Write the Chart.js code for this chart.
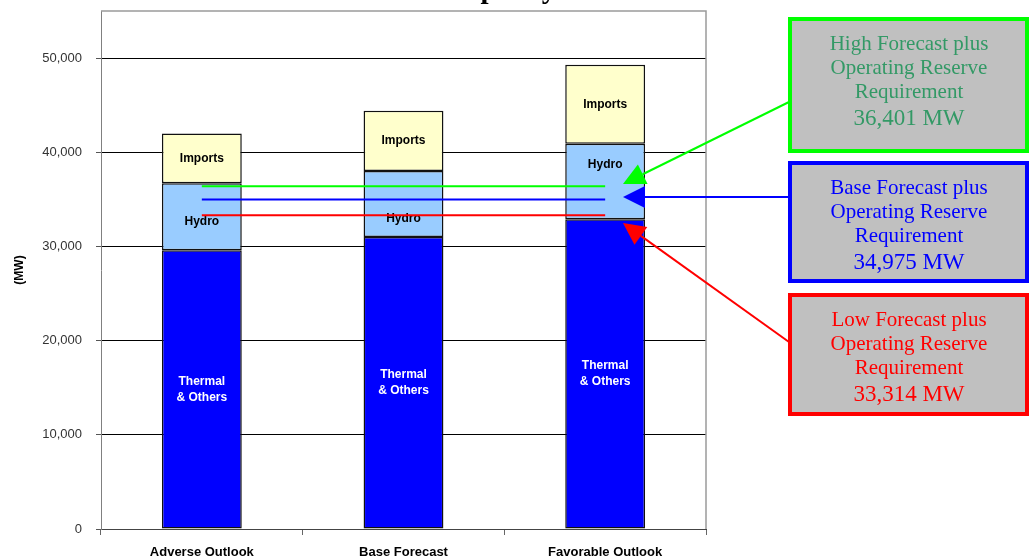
<!DOCTYPE html>
<html><head><meta charset="utf-8">
<script src="https://cdn.jsdelivr.net/npm/chart.js@4"></script>
<style>html,body{margin:0;padding:0;background:#fff;}canvas{display:block}</style>
</head><body>
<canvas id="c" width="1029" height="560"></canvas>
<script>
const categories = ['Adverse Outlook', 'Base Forecast', 'Favorable Outlook'];
const thermal = [29600, 31000, 32900];
const hydro = [7100, 7000, 8000];
const imports = [5300, 6400, 8400];
const highReserve = 36401;
const baseReserve = 34975;
const lowReserve = 33314;
const yTicks = [0, 10000, 20000, 30000, 40000, 50000];
const segmentLabels = ['Thermal\n& Others', 'Hydro', 'Imports'];
const calloutLines = [
  ['High Forecast plus', 'Operating Reserve', 'Requirement'],
  ['Base Forecast plus', 'Operating Reserve', 'Requirement'],
  ['Low Forecast plus', 'Operating Reserve', 'Requirement']
];
const calloutValues = [highReserve, baseReserve, lowReserve];

const SANS = '"Liberation Sans", Arial, sans-serif';
const SERIF = '"Liberation Serif", "Times New Roman", serif';

const barLabelPlugin = {
  id: 'barLabels',
  afterDatasetDraw(chart, args) {
    if (args.index !== 0) return;
    const shift = [[0, 0, 0], [5, 15, -17], [0, 0, 0]];
    const colors = ['#ffffff', '#000000', '#000000'];
    const ctx = chart.ctx;
    ctx.save();
    ctx.font = 'bold 12px ' + SANS;
    ctx.textAlign = 'center';
    ctx.textBaseline = 'middle';
    [0, 1, 2].forEach(di => {
      const meta = chart.getDatasetMeta(di);
      const lines = segmentLabels[di].split('\n');
      meta.data.forEach((el, i) => {
        const cy = (el.y + el.base) / 2 + shift[di][i];
        ctx.fillStyle = colors[di];
        lines.forEach((t, k) => ctx.fillText(t, el.x, cy + (k - (lines.length - 1) / 2) * 16));
      });
    });
    ctx.restore();
  }
};

const framePlugin = {
  id: 'frame',
  beforeDatasetsDraw(chart) {
    const {ctx, chartArea: a} = chart;
    ctx.save();
    ctx.strokeStyle = '#9a9a9a';
    ctx.lineWidth = 1.5;
    ctx.beginPath();
    ctx.moveTo(a.left, a.top); ctx.lineTo(a.right, a.top); ctx.lineTo(a.right, a.bottom);
    ctx.stroke();
    ctx.restore();
  }
};

const titlePlugin = {
  id: 'clippedTitle',
  afterDraw(chart) {
    const ctx = chart.ctx;
    ctx.save();
    ctx.font = 'bold 29px ' + SERIF;
    ctx.fillStyle = '#000';
    ctx.textAlign = 'left';
    ctx.textBaseline = 'alphabetic';
    ctx.fillText('Capacity', 445, -2);
    ctx.restore();
  }
};

function arrow(ctx, x0, y0, x1, y1, color) {
  const dx = x0 - x1, dy = y0 - y1, len = Math.hypot(dx, dy);
  const ux = dx / len, uy = dy / len;
  const L = 22, W = 11;
  ctx.strokeStyle = color; ctx.fillStyle = color; ctx.lineWidth = 2;
  ctx.beginPath(); ctx.moveTo(x0, y0); ctx.lineTo(x1 + ux * L, y1 + uy * L); ctx.stroke();
  const bx = x1 + ux * L, by = y1 + uy * L;
  ctx.beginPath();
  ctx.moveTo(x1, y1);
  ctx.lineTo(bx - uy * W, by + ux * W);
  ctx.lineTo(bx + uy * W, by - ux * W);
  ctx.closePath(); ctx.fill();
}

const calloutPlugin = {
  id: 'callouts',
  afterDraw(chart) {
    const ctx = chart.ctx;
    const boxes = [
      {top: 17, bottom: 153, border: '#00ff00', text: '#339966', from: [789, 102], tip: [623, 184]},
      {top: 161, bottom: 283, border: '#0000ff', text: '#0000ff', from: [789, 197], tip: [623, 197]},
      {top: 293, bottom: 416, border: '#ff0000', text: '#ff0000', from: [789, 342], tip: [623, 223]}
    ];
    ctx.save();
    boxes.forEach((b, i) => {
      arrow(ctx, b.from[0], b.from[1], b.tip[0], b.tip[1], b.border);
      ctx.fillStyle = '#c0c0c0';
      ctx.fillRect(790, b.top + 2, 237, b.bottom - b.top - 4);
      ctx.strokeStyle = b.border; ctx.lineWidth = 4;
      ctx.strokeRect(790, b.top + 2, 237, b.bottom - b.top - 4);
      ctx.fillStyle = b.text;
      ctx.textAlign = 'center'; ctx.textBaseline = 'alphabetic';
      ctx.font = '21px ' + SERIF;
      calloutLines[i].forEach((t, k) => ctx.fillText(t, 909, b.top + 33 + k * 24));
      ctx.font = '23px ' + SERIF;
      ctx.fillText(calloutValues[i].toLocaleString('en-US') + ' MW', 909, b.top + 108);
    });
    ctx.restore();
  }
};

const barCommon = {borderColor: '#111', borderWidth: 1.5, borderSkipped: false,
  categoryPercentage: 1, barPercentage: 0.396, order: 1};
const lineCommon = {type: 'line', borderWidth: 2, pointRadius: 0, fill: false, order: 0, tension: 0};

new Chart(document.getElementById('c'), {
  type: 'bar',
  data: {
    labels: categories,
    datasets: [
      Object.assign({label: 'Thermal & Others', data: thermal, backgroundColor: '#0000ff'}, barCommon),
      Object.assign({label: 'Hydro', data: hydro, backgroundColor: '#99ccff'}, barCommon),
      Object.assign({label: 'Imports', data: imports, backgroundColor: '#ffffcc'}, barCommon),
      Object.assign({label: 'High', data: categories.map(() => highReserve), borderColor: '#00ff00', stack: 'g'}, lineCommon),
      Object.assign({label: 'Base', data: categories.map(() => baseReserve), borderColor: '#0000ff', stack: 'b'}, lineCommon),
      Object.assign({label: 'Low', data: categories.map(() => lowReserve), borderColor: '#ff0000', stack: 'r'}, lineCommon)
    ]
  },
  options: {
    responsive: false,
    animation: false,
    layout: {padding: {top: 11, right: 323, left: 0, bottom: 0}},
    plugins: {legend: {display: false}, tooltip: {enabled: false}, title: {display: false}},
    scales: {
      x: {
        stacked: true,
        afterFit: s => { s.height = 31; s.paddingLeft = 0; s.paddingRight = 0; },
        grid: {offset: true, drawOnChartArea: false, drawTicks: true, tickLength: 6, color: '#666'},
        border: {color: '#444', width: 1},
        ticks: {font: {family: SANS, size: 13, weight: 'bold'}, color: '#000', padding: 10, maxRotation: 0}
      },
      y: {
        stacked: true,
        min: 0, max: 55000,
        afterFit: s => { s.width = 101; s.paddingTop = 0; s.paddingBottom = 0; },
        afterBuildTicks: s => { s.ticks = yTicks.map(v => ({value: v})); },
        grid: {color: '#000', tickColor: '#555', tickLength: 5, lineWidth: 1},
        border: {color: '#808080', width: 1},
        ticks: {font: {family: SANS, size: 13}, color: '#333', padding: 14,
          callback: v => Number(v).toLocaleString('en-US')},
        title: {display: true, text: '(MW)', font: {family: SANS, size: 12, weight: 'bold'}, color: '#000',
          padding: {top: 12, bottom: 0}}
      }
    }
  },
  plugins: [framePlugin, barLabelPlugin, calloutPlugin, titlePlugin]
});
</script>
</body></html>
